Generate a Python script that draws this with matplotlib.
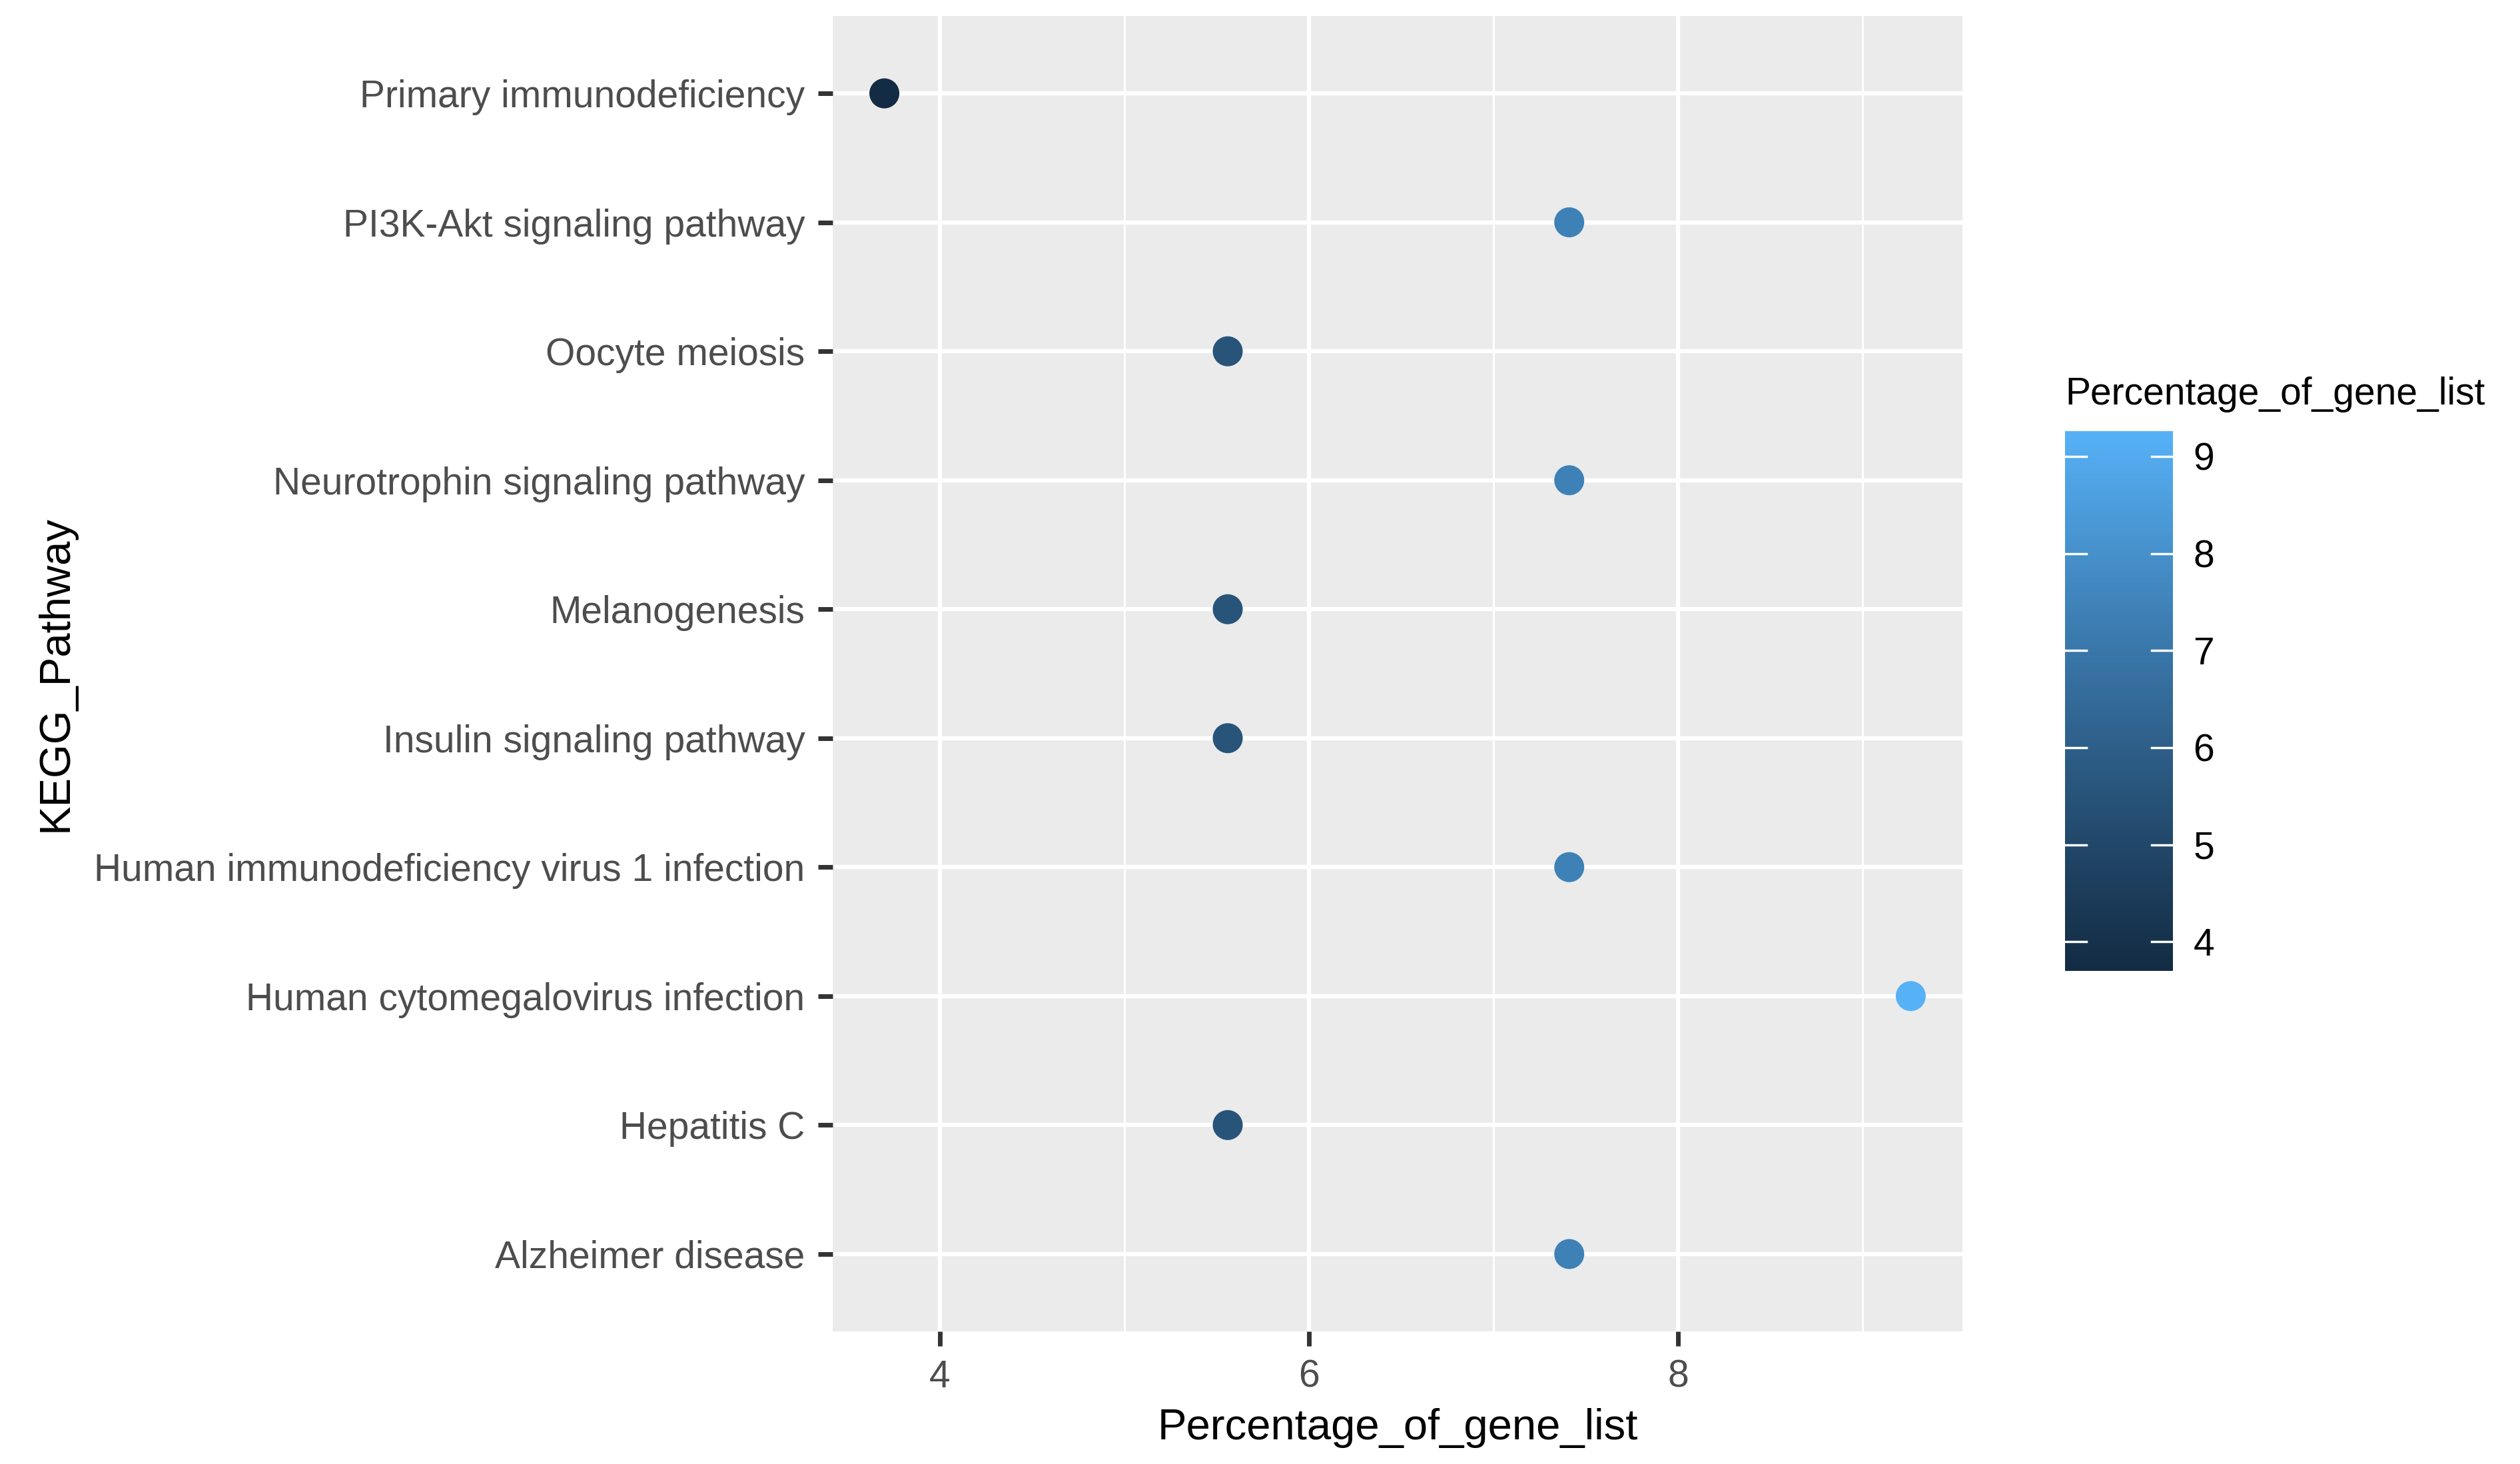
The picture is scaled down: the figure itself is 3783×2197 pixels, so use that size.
import numpy as np
import matplotlib
matplotlib.use("Agg")
import matplotlib.pyplot as plt
from matplotlib.colors import ListedColormap, Normalize

plt.rcParams['font.family'] = ['Liberation Sans', 'DejaVu Sans']

pathways = ["Alzheimer disease", "Hepatitis C", "Human cytomegalovirus infection",
            "Human immunodeficiency virus 1 infection", "Insulin signaling pathway",
            "Melanogenesis", "Neurotrophin signaling pathway", "Oocyte meiosis",
            "PI3K-Akt signaling pathway", "Primary immunodeficiency"]
percentage = [7.41, 5.56, 9.26, 7.41, 5.56, 5.56, 7.41, 5.56, 7.41, 3.70]
x_ticks = [4, 6, 8]
x_minor = [5, 7, 9]
cbar_ticks = [4, 5, 6, 7, 8, 9]

# ggplot2 default gradient (#132B43 -> #56B1F7) interpolated in Lab space
def srgb_to_lin(c):
    c = np.asarray(c, float)
    return np.where(c <= 0.04045, c / 12.92, ((c + 0.055) / 1.055) ** 2.4)

def lin_to_srgb(c):
    c = np.clip(c, 0, 1)
    return np.where(c <= 0.0031308, 12.92 * c, 1.055 * c ** (1 / 2.4) - 0.055)

M = np.array([[0.4124, 0.3576, 0.1805], [0.2126, 0.7152, 0.0722], [0.0193, 0.1192, 0.9505]])
Minv = np.linalg.inv(M)
wp = np.array([0.95047, 1.0, 1.08883])

def f(t):
    d = 6 / 29
    return np.where(t > d ** 3, np.cbrt(t), t / (3 * d * d) + 4 / 29)

def finv(t):
    d = 6 / 29
    return np.where(t > d, t ** 3, 3 * d * d * (t - 4 / 29))

def rgb_to_lab(rgb):
    xyz = M @ srgb_to_lin(rgb) / wp
    fx, fy, fz = f(xyz)
    return np.array([116 * fy - 16, 500 * (fx - fy), 200 * (fy - fz)])

def lab_to_rgb(lab):
    L, a, b = lab
    fy = (L + 16) / 116
    fx = fy + a / 500
    fz = fy - b / 200
    xyz = np.array([finv(fx), finv(fy), finv(fz)]) * wp
    return lin_to_srgb(Minv @ xyz)

c_low = np.array([0x13, 0x2B, 0x43]) / 255
c_high = np.array([0x56, 0xB1, 0xF7]) / 255
lab_lo, lab_hi = rgb_to_lab(c_low), rgb_to_lab(c_high)
cols = [lab_to_rgb(lab_lo + (lab_hi - lab_lo) * t) for t in np.linspace(0, 1, 256)]
cmap = ListedColormap(np.clip(np.array(cols), 0, 1))
norm = Normalize(vmin=min(percentage), vmax=max(percentage))

W, H = 3783, 2197
fig = plt.figure(figsize=(W / 100, H / 100), dpi=100)
left, right, top, bottom = 1250, 2946, 24, 1998
ax = fig.add_axes([left / W, 1 - bottom / H, (right - left) / W, (bottom - top) / H])
ax.set_facecolor('#EBEBEB')
for s in ax.spines.values():
    s.set_visible(False)

ypos = np.arange(1, len(pathways) + 1)
ax.set_xlim(3.42, 9.54)
ax.set_ylim(0.4, len(pathways) + 0.6)
ax.set_xticks(x_ticks)
ax.set_xticks(x_minor, minor=True)
ax.set_yticks(ypos)
ax.set_yticklabels(pathways)
ax.grid(True, which='major', color='white', linewidth=4.5)
ax.grid(True, which='minor', axis='x', color='white', linewidth=2.2)
ax.set_axisbelow(True)
ax.tick_params(axis='both', which='major', length=16, width=5, color='#333333',
               labelsize=41, labelcolor='#4D4D4D', pad=14)
ax.tick_params(axis='both', which='minor', length=0)

ax.scatter(percentage, ypos, c=percentage, cmap=cmap, norm=norm, s=1050,
           edgecolors='none', zorder=3)

ax.set_xlabel('Percentage_of_gene_list', fontsize=47, color='black', labelpad=14)
ax.set_ylabel('KEGG_Pathway', fontsize=47, color='black', labelpad=20)

# colorbar
cx0, cx1, cy0, cy1 = 3100, 3262, 647, 1457
cax = fig.add_axes([cx0 / W, 1 - cy1 / H, (cx1 - cx0) / W, (cy1 - cy0) / H])
sm = plt.cm.ScalarMappable(norm=norm, cmap=cmap)
cb = fig.colorbar(sm, cax=cax)
cb.outline.set_visible(False)
cb.set_ticks(cbar_ticks)
cb.ax.tick_params(length=0, labelsize=41, labelcolor='black', pad=22)
for v in cbar_ticks:
    cax.axhline(v, xmin=0, xmax=0.2, color='white', linewidth=2.5)
    cax.axhline(v, xmin=0.8, xmax=1.0, color='white', linewidth=2.5)
fig.text(cx0 / W, 1 - 592 / H, 'Percentage_of_gene_list', fontsize=41, color='black',
         ha='left', va='center')

fig.savefig('out.png', dpi=100, facecolor='white')
